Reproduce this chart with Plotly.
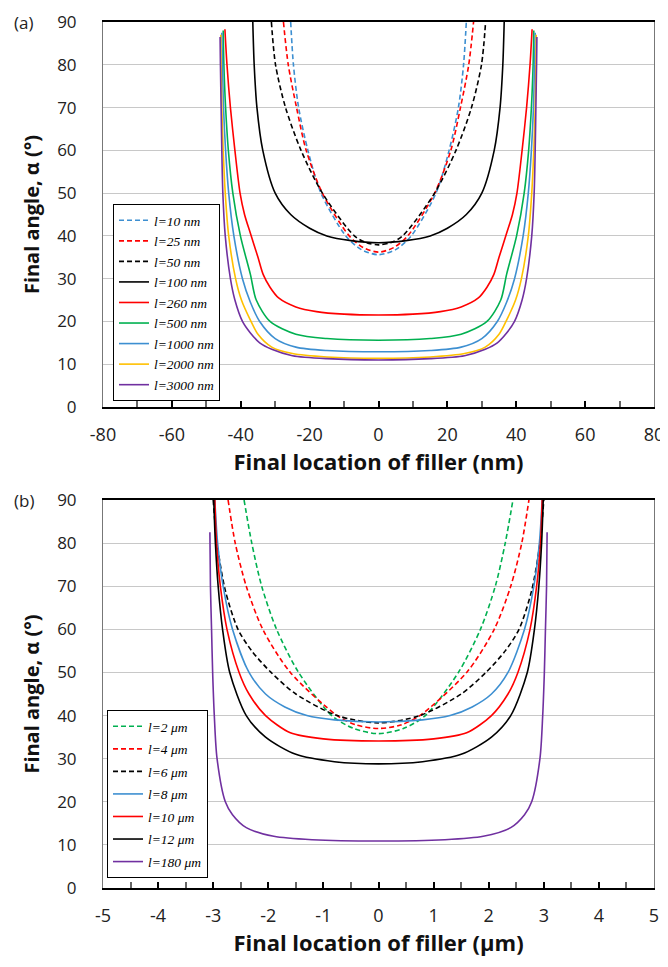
import plotly.graph_objects as go

# ---------------- Panel (a) data: final location (nm) vs final angle (deg) ----------------
a_names = ["l=10 nm", "l=25 nm", "l=50 nm", "l=100 nm", "l=260 nm",
           "l=500 nm", "l=1000 nm", "l=2000 nm", "l=3000 nm"]
a_colors = ["#3d8fd1", "#ff0000", "#000000", "#000000", "#ff0000",
            "#00b050", "#3d8fd1", "#ffc000", "#7030a0"]
a_dashed = [True, True, True, False, False, False, False, False, False]

a10_x = [-25.5, -24.7, -23.2, -20.5, -16.7, -9.5, -5, 0, 5, 9.5, 16.7, 20.5, 23.2, 24.7, 25.5]
a10_y = [90, 80, 70, 60, 50, 40, 36.8, 35.6, 36.8, 40, 50, 60, 70, 80, 90]
a25_x = [-27.6, -26.2, -23.8, -21, -16.3, -8.5, -4.5, 0, 4.5, 8.5, 16.3, 21, 23.8, 26.2, 27.6]
a25_y = [90, 80, 70, 60, 50, 40, 37.3, 36.2, 37.3, 40, 50, 60, 70, 80, 90]
a50_x = [-31.1, -29.9, -27, -22.5, -16.3, -7, -3.5, 0, 3.5, 7, 16.3, 22.5, 27, 29.9, 31.1]
a50_y = [90, 80, 70, 60, 50, 40, 38.4, 37.9, 38.4, 40, 50, 60, 70, 80, 90]
a100_x = [-36.5, -36.1, -35.3, -33.6, -30, -25.5, -20, -15, -8, 0,
          8, 15, 20, 25.5, 30, 33.6, 35.3, 36.1, 36.5]
a100_y = [90, 80, 70, 60, 50, 45, 41.8, 40, 38.9, 38.4,
          38.9, 40, 41.8, 45, 50, 60, 70, 80, 90]
a260_x = [-44.6, -44.0, -43.0, -41.7, -40.2, -38.9, -37.2, -35, -33.5, -31.5, -29, -24, -18, -10, 0,
          10, 18, 24, 29, 31.5, 33.5, 35, 37.2, 38.9, 40.2, 41.7, 43.0, 44.0, 44.6]
a260_y = [88.3, 80, 70, 60, 50, 45, 40.6, 35, 31, 28, 25.5, 23.4, 22.3, 21.7, 21.5,
          21.7, 22.3, 23.4, 25.5, 28, 31, 35, 40.6, 45, 50, 60, 70, 80, 88.3]
a500_x = [-45.1, -44.9, -44.4, -43.6, -42.3, -40.1, -37.2, -35.5, -31.5, -24, -15, 0,
          15, 24, 31.5, 35.5, 37.2, 40.1, 42.3, 43.6, 44.4, 44.9, 45.1]
a500_y = [88, 80, 70, 60, 50, 40, 31, 25, 20, 17, 16, 15.6,
          16, 17, 20, 25, 31, 40, 50, 60, 70, 80, 88]
a1000_x = [-45.5, -45.3, -45, -44.4, -43.5, -42, -39.5, -37.2, -34.5, -30, -24, -15, 0,
           15, 24, 30, 34.5, 37.2, 39.5, 42, 43.5, 44.4, 45, 45.3, 45.5]
a1000_y = [87.5, 80, 70, 60, 50, 40, 30, 24.5, 20, 16, 14, 13.2, 12.9,
           13.2, 14, 16, 20, 24.5, 30, 40, 50, 60, 70, 80, 87.5]
a2000_x = [-45.8, -45.7, -45.5, -45.1, -44.5, -43.5, -41.5, -39.8, -37.2, -35, -31, -25, -15, 0,
           15, 25, 31, 35, 37.2, 39.8, 41.5, 43.5, 44.5, 45.1, 45.5, 45.7, 45.8]
a2000_y = [87, 80, 70, 60, 50, 40, 30, 25, 20.3, 17, 14, 12.5, 11.7, 11.4,
           11.7, 12.5, 14, 17, 20.3, 25, 30, 40, 50, 60, 70, 80, 87]
a3000_x = [-46, -45.9, -45.7, -45.5, -45.2, -44.5, -43, -41.7, -39.5, -37.2, -34.5, -31, -25, -15, 0,
           15, 25, 31, 34.5, 37.2, 39.5, 41.7, 43, 44.5, 45.2, 45.5, 45.7, 45.9, 46]
a3000_y = [86.5, 80, 70, 60, 50, 40, 30, 25, 20, 17.3, 15, 13.5, 12, 11.3, 11.0,
           11.3, 12, 13.5, 15, 17.3, 20, 25, 30, 40, 50, 60, 70, 80, 86.5]

a_xs = [a10_x, a25_x, a50_x, a100_x, a260_x, a500_x, a1000_x, a2000_x, a3000_x]
a_ys = [a10_y, a25_y, a50_y, a100_y, a260_y, a500_y, a1000_y, a2000_y, a3000_y]

# ---------------- Panel (b) data: final location (um) vs final angle (deg) ----------------
b_names = ["l=2 \u03bcm", "l=4 \u03bcm", "l=6 \u03bcm", "l=8 \u03bcm",
           "l=10 \u03bcm", "l=12 \u03bcm", "l=180 \u03bcm"]
b_colors = ["#00b050", "#ff0000", "#000000", "#3d8fd1", "#ff0000", "#000000", "#7030a0"]
b_dashed = [True, True, True, False, False, False, False]

b2_x = [-2.44, -2.3, -2.12, -1.85, -1.45, -0.85, -0.45, 0, 0.45, 0.85, 1.45, 1.85, 2.12, 2.3, 2.44]
b2_y = [90, 80, 70, 60, 50, 40, 37, 35.8, 37, 40, 50, 60, 70, 80, 90]
b4_x = [-2.73, -2.6, -2.4, -2.1, -1.6, -0.75, -0.4, 0, 0.4, 0.75, 1.6, 2.1, 2.4, 2.6, 2.73]
b4_y = [90, 80, 70, 60, 50, 40, 37.8, 37, 37.8, 40, 50, 60, 70, 80, 90]
b6_x = [-3.0, -2.93, -2.78, -2.55, -2.3, -1.95, -1.5, -0.75, 0,
        0.75, 1.5, 1.95, 2.3, 2.55, 2.78, 2.93, 3.0]
b6_y = [90, 80, 69, 60, 55, 50, 45, 40, 38.3,
        40, 45, 50, 55, 60, 69, 80, 90]
b8_x = [-2.97, -2.92, -2.82, -2.65, -2.35, -2.05, -1.7, -1.3, -0.8, 0,
        0.8, 1.3, 1.7, 2.05, 2.35, 2.65, 2.82, 2.92, 2.97]
b8_y = [90, 80, 70, 60, 50, 45, 42, 40, 39, 38.5,
        39, 40, 42, 45, 50, 60, 70, 80, 90]
b10_x = [-2.97, -2.94, -2.87, -2.75, -2.53, -2.35, -2.05, -1.6, -1.0, 0,
         1.0, 1.6, 2.05, 2.35, 2.53, 2.75, 2.87, 2.94, 2.97]
b10_y = [90, 80, 70, 60, 50, 45, 40, 36, 34.6, 34.1,
         34.6, 36, 40, 45, 50, 60, 70, 80, 90]
b12_x = [-2.99, -2.96, -2.91, -2.83, -2.7, -2.4, -2.05, -1.5, -0.8, 0,
         0.8, 1.5, 2.05, 2.4, 2.7, 2.83, 2.91, 2.96, 2.99]
b12_y = [90, 80, 70, 60, 50, 40, 35, 31, 29.3, 28.8,
         29.3, 31, 35, 40, 50, 60, 70, 80, 90]
b180_x = [-3.06, -3.05, -3.03, -3.01, -2.98, -2.93, -2.78, -2.65, -2.4, -1.9, -1.2, 0,
          1.2, 1.9, 2.4, 2.65, 2.78, 2.93, 2.98, 3.01, 3.03, 3.05, 3.06]
b180_y = [82.5, 70, 60, 50, 40, 30, 20, 17, 14, 12, 11.2, 10.9,
          11.2, 12, 14, 17, 20, 30, 40, 50, 60, 70, 82.5]

b_xs = [b2_x, b4_x, b6_x, b8_x, b10_x, b12_x, b180_x]
b_ys = [b2_y, b4_y, b6_y, b8_y, b10_y, b12_y, b180_y]

a_xticks = [-80, -60, -40, -20, 0, 20, 40, 60, 80]
a_xtext = ["-80", "-60", "-40", "-20", "0", "20", "40", "60", "80"]
b_xticks = [-5, -4, -3, -2, -1, 0, 1, 2, 3, 4, 5]
b_xtext = ["-5", "-4", "-3", "-2", "-1", "0", "1", "2", "3", "4", "5"]
y_ticks = [0, 10, 20, 30, 40, 50, 60, 70, 80, 90]

# ---------------- Figure ----------------
OFF = 8                      # page body margin
W, H = 668 - OFF, 967 - 2 * OFF
FONT = "Open Sans"
fig = go.Figure()

for i, (x, y) in enumerate(zip(a_xs, a_ys)):
    fig.add_trace(go.Scatter(
        x=x, y=y, mode="lines", name=a_names[i], xaxis="x", yaxis="y",
        line=dict(color=a_colors[i], width=1.6, shape="spline", smoothing=0.8,
                  dash="5px,3px" if a_dashed[i] else "solid"),
        legend="legend", legendgroup="a%d" % i))

for i, (x, y) in enumerate(zip(b_xs, b_ys)):
    fig.add_trace(go.Scatter(
        x=x, y=y, mode="lines", name=b_names[i], xaxis="x2", yaxis="y2",
        line=dict(color=b_colors[i], width=1.6, shape="spline", smoothing=0.8,
                  dash="5px,3px" if b_dashed[i] else "solid"),
        legend="legend2", legendgroup="b%d" % i))

def px(v):
    return (v - OFF) / W

def py(v):
    return 1 - (v - OFF) / H

xd = [px(103), px(654)]
ya = [py(407), py(22)]
yb = [py(888), py(500)]
xmid = (xd[0] + xd[1]) / 2

tickfont = dict(family=FONT, size=17, color="#222")
xtickfont = dict(family=FONT, size=18, color="#222")
xtitlefont = dict(family=FONT, size=22, color="#111", weight="bold")
ytitlefont = dict(family=FONT, size=20, color="#111", weight="bold")

def xax(rng, tv, tt, minor_dt, title, anchor):
    return dict(domain=xd, anchor=anchor, range=rng, tickvals=tv, ticktext=tt, ticks="inside",
                ticklen=6, tickwidth=1.5, tickcolor="#000", showline=True, linecolor="#000",
                linewidth=2, mirror=True, showgrid=False, zeroline=False, automargin=False,
                ticklabelstandoff=10, ticklabeloverflow="allow",
                minor=dict(dtick=minor_dt, ticks="inside", ticklen=6, tickcolor="#666", showgrid=False),
                tickfont=xtickfont, title=dict(text=title, font=xtitlefont, standoff=4))

def yax(dom, anchor):
    return dict(domain=dom, anchor=anchor, range=[0, 90], tickvals=y_ticks, ticks="",
                showline=True, linecolor="#777", linewidth=1, mirror=True,
                showgrid=True, gridcolor="#c8c8c8", gridwidth=1, zeroline=False,
                automargin=False, ticklabelstandoff=22,
                tickfont=tickfont,
                title=dict(text="Final angle, \u03b1 (\u00b0)", font=ytitlefont, standoff=12))

def midax(over):
    return dict(overlaying=over, anchor="free", position=xmid, side="right", range=[0, 90],
                tickvals=y_ticks, ticks="outside", ticklen=6, tickwidth=1.5, tickcolor="#000",
                minor=dict(dtick=5, ticks="outside", ticklen=6, tickcolor="#333"),
                showline=True, linecolor="#808080", linewidth=2, showticklabels=False,
                showgrid=False, zeroline=False, automargin=False)

legfont = dict(family="Liberation Serif", size=13.5, color="#000", style="italic")

fig.update_layout(
    width=W, height=H, margin=dict(l=0, r=0, t=0, b=0, autoexpand=False),
    plot_bgcolor="white", paper_bgcolor="white",
    xaxis=xax([-80, 80], a_xticks, a_xtext, 10, "Final location of filler (nm)", "y"),
    yaxis=yax(ya, "x"),
    xaxis2=xax([-5, 5], b_xticks, b_xtext, 0.5, "Final location of filler (\u03bcm)", "y2"),
    yaxis2=yax(yb, "x2"),
    yaxis3=midax("y"),
    yaxis4=midax("y2"),
    legend=dict(x=px(113), y=py(204), xanchor="left", yanchor="top",
                bgcolor="white", bordercolor="#000", borderwidth=1, font=legfont,
                itemwidth=30, tracegroupgap=0),
    legend2=dict(x=px(107), y=py(710), xanchor="left", yanchor="top",
                 bgcolor="white", bordercolor="#000", borderwidth=1, font=legfont,
                 itemwidth=30, tracegroupgap=2),
    annotations=[
        dict(text="(a)", x=px(12), y=py(22), xref="paper", yref="paper",
             xanchor="left", yanchor="middle", showarrow=False,
             font=dict(family=FONT, size=17, color="#222")),
        dict(text="(b)", x=px(12), y=py(500), xref="paper", yref="paper",
             xanchor="left", yanchor="middle", showarrow=False,
             font=dict(family=FONT, size=17, color="#222")),
    ],
)

fig.write_html("out.html")
